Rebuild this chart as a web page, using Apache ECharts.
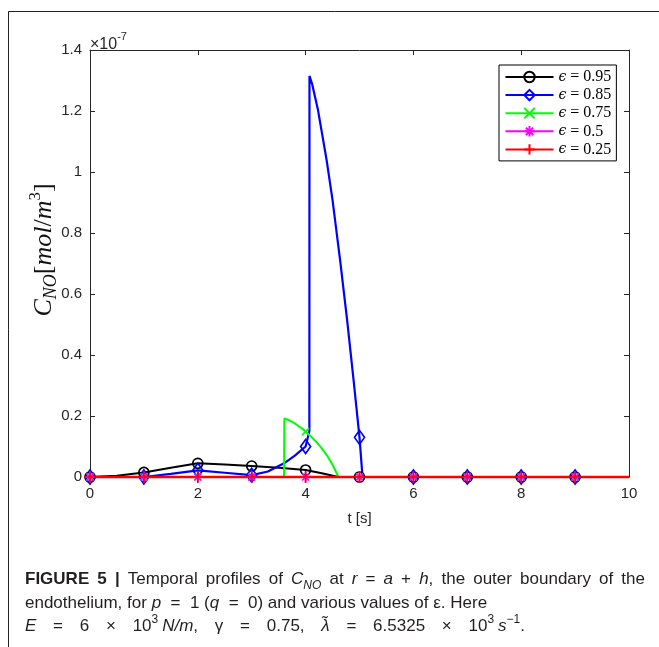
<!DOCTYPE html>
<html><head><meta charset="utf-8">
<script src="https://cdn.jsdelivr.net/npm/echarts@6/dist/echarts.min.js"></script>
<style>html,body{margin:0;padding:0;background:#fff}#c{width:659px;height:647px}</style>
</head><body><div id="c"></div>
<script>
// values in units of 1e-7 mol/m^3
const markerTimes = [0, 1, 2, 3, 4, 5, 6, 7, 8, 9];
const t095 = [0, 0.5, 1, 1.5, 2, 2.5, 3, 3.5, 4, 4.3, 4.61, 5, 6, 7, 8, 9, 10];
const c095 = [0, 0.004, 0.015, 0.03, 0.045, 0.041, 0.036, 0.03, 0.023, 0.012, 0, 0, 0, 0, 0, 0, 0];
const t085 = [0, 0.5, 1, 1.5, 2, 2.5, 3, 3.3, 3.6, 3.8, 4, 4.07, 4.072, 4.12, 4.23, 4.39, 4.5, 4.64, 4.77, 4.89, 5, 5.056, 6, 7, 8, 9, 10];
const c085 = [0, 0, 0, 0.01, 0.022, 0.014, 0.006, 0.018, 0.045, 0.07, 0.1, 0.15, 1.315, 1.289, 1.203, 1.039, 0.908, 0.711, 0.515, 0.318, 0.13, 0, 0, 0, 0, 0, 0];
const t075 = [0, 1, 2, 3, 3.6, 3.605, 3.7, 3.8, 3.9, 4, 4.1, 4.2, 4.3, 4.4, 4.5, 4.61, 5, 6, 7, 8, 9, 10];
const c075 = [0, 0, 0, 0, 0, 0.192, 0.186, 0.176, 0.163, 0.149, 0.133, 0.115, 0.094, 0.07, 0.04, 0, 0, 0, 0, 0, 0, 0];
const t050 = [0, 1, 2, 3, 4, 5, 6, 7, 8, 9, 10];
const c050 = [0, 0, 0, 0, 0, 0, 0, 0, 0, 0, 0];
const t025 = [0, 1, 2, 3, 4, 5, 6, 7, 8, 9, 10];
const c025 = [0, 0, 0, 0, 0, 0, 0, 0, 0, 0, 0];
const seriesNames = ['ε = 0.95', 'ε = 0.85', 'ε = 0.75', 'ε = 0.5', 'ε = 0.25'];
const xTickValues = [0, 2, 4, 6, 8, 10];
const yTickValues = [0, 0.2, 0.4, 0.6, 0.8, 1, 1.2, 1.4];

function buildData(ts, vs) {
  return ts.map((t, i) => markerTimes.includes(t) ? [t, vs[i]] : { value: [t, vs[i]], symbol: 'none' });
}
const AX = '#262626';
const SANS = 'Liberation Sans, Arial, Helvetica, sans-serif';
const SERIF = 'Liberation Serif, Times New Roman, serif';
const CAPC = '#231f20';

function mkSeries(name, ts, vs, color, symbol, size, lw) {
  return {
    name, type: 'line', data: buildData(ts, vs), xAxisIndex: 0, yAxisIndex: 0,
    symbol, symbolSize: size, showAllSymbol: true, showSymbol: true,
    color, lineStyle: { color, width: lw },
    itemStyle: { color: 'rgba(0,0,0,0)', borderColor: color, borderWidth: 1.7 },
    emphasis: { disabled: true }, animation: false, clip: false
  };
}
const STAR = 'path://M5,0L5,10M0,5L10,5M1.5,1.5L8.5,8.5M8.5,1.5L1.5,8.5';
const PLUS = 'path://M5,0L5,10M0,5L10,5';
const XM = 'path://M0,0L10,10M10,0L0,10';

// caption text layout helpers
const FS = 17;
const fontOf = {
  t: FS + 'px "Liberation Sans"', b: 'bold ' + FS + 'px "Liberation Sans"',
  i: 'italic ' + FS + 'px "Liberation Sans"', sub: 'italic 12px "Liberation Sans"', sup: '12px "Liberation Sans"'
};
const ctx = document.createElement('canvas').getContext('2d');
function pw(style, txt) { ctx.font = fontOf[style]; return ctx.measureText(txt).width; }
function justify(words, total) {
  let sum = 0;
  words.forEach(w => w.forEach(p => { sum += (p[0] === 'g' ? 4 : pw(p[0], p[1])); }));
  const gap = (total - sum) / (words.length - 1);
  const text = words.map(w => w.map(p => '{' + p[0] + '|' + p[1] + '}').join('')).join('{sp| }');
  return { text, gap };
}
const capRich = (gap) => ({
  b: { fontWeight: 'bold', fontFamily: SANS, fontSize: FS, fill: CAPC, lineHeight: 24 },
  t: { fontFamily: SANS, fontSize: FS, fill: CAPC, lineHeight: 24 },
  i: { fontFamily: SANS, fontStyle: 'italic', fontSize: FS, fill: CAPC, lineHeight: 24 },
  sub: { fontFamily: SANS, fontStyle: 'italic', fontSize: 12, fill: CAPC, verticalAlign: 'bottom', lineHeight: 26 },
  sup: { fontFamily: SANS, fontSize: 12, fill: CAPC, verticalAlign: 'top', lineHeight: 24 },
  sp: { width: gap, fontSize: FS, lineHeight: 24 },
  g: { width: 4, fontSize: FS, lineHeight: 24 }
});
const line1 = justify([
  [['b', 'FIGURE']], [['b', '5']], [['b', '|']], [['t', 'Temporal']], [['t', 'profiles']], [['t', 'of']],
  [['i', 'C'], ['sub', 'NO']], [['t', 'at']], [['i', 'r']], [['t', '=']], [['i', 'a']], [['t', '+']],
  [['i', 'h'], ['t', ',']], [['t', 'the']], [['t', 'outer']], [['t', 'boundary']], [['t', 'of']], [['t', 'the']]
], 620);
const line3 = justify([
  [['i', 'E']], [['t', '=']], [['t', '6']], [['t', '×']], [['t', '10'], ['sup', '3'], ['g', ' '], ['i', 'N/m'], ['t', ',']],
  [['t', 'γ']], [['t', '=']], [['t', '0.75,']], [['i', 'λ̃']], [['t', '=']], [['t', '6.5325']], [['t', '×']],
  [['t', '10'], ['sup', '3'], ['g', ' '], ['i', 's'], ['sup', '−1'], ['t', '.']]
], 500);

const chart = echarts.init(document.getElementById('c'), null, { renderer: 'canvas' });
const axisCommon = {
  type: 'value', axisLine: { show: true, onZero: false, lineStyle: { color: AX, width: 1 } },
  axisTick: { show: true, inside: true, length: 5, lineStyle: { color: AX } },
  splitLine: { show: false }
};
chart.setOption({
  backgroundColor: '#fff',
  animation: false,
  grid: { left: 90, right: 30, top: 50, bottom: 170, show: false },
  xAxis: [
    Object.assign({}, axisCommon, { min: 0, max: 10, interval: 2, position: 'bottom',
      axisLabel: { color: AX, fontSize: 15, fontFamily: SANS, margin: 9,
        formatter: v => xTickValues.includes(v) ? String(v) : '' } }),
    Object.assign({}, axisCommon, { min: 0, max: 10, interval: 2, position: 'top', axisLabel: { show: false } })
  ],
  yAxis: [
    Object.assign({}, axisCommon, { min: 0, max: 1.4, interval: 0.2, position: 'left',
      axisLabel: { color: AX, fontSize: 15, fontFamily: SANS, margin: 8,
        formatter: v => { const r = Math.round(v * 10) / 10; return yTickValues.includes(r) ? String(r) : ''; } } }),
    Object.assign({}, axisCommon, { min: 0, max: 1.4, interval: 0.2, position: 'right', axisLabel: { show: false } })
  ],
  legend: {
    orient: 'vertical', left: 499, top: 65, itemWidth: 48, itemHeight: 13, itemGap: 2.1,
    padding: [4, 5, 3.5, 5.5], borderColor: '#000', borderWidth: 1, backgroundColor: '#fff',
    data: seriesNames,
    formatter: n => '{e|ϵ}{n| = ' + n.split('= ')[1] + '}',
    textStyle: { fontSize: 15, color: '#000', fontFamily: SERIF, lineHeight: 14,
      rich: { e: { fontStyle: 'italic', fontFamily: 'DejaVu Serif', fontSize: 14, color: '#000', lineHeight: 14 },
              n: { fontFamily: SERIF, fontSize: 16, color: '#000', lineHeight: 14 } } }
  },
  series: [
    mkSeries(seriesNames[0], t095, c095, '#000000', 'circle', 10, 2),
    mkSeries(seriesNames[1], t085, c085, '#0000ff', 'diamond', [10, 14], 2.2),
    mkSeries(seriesNames[2], t075, c075, '#00ff00', XM, 7, 2),
    mkSeries(seriesNames[3], t050, c050, '#ff00ff', STAR, 10, 2),
    mkSeries(seriesNames[4], t025, c025, '#ff0000', PLUS, 12, 2.4)
  ],
  graphic: [
    { type: 'rect', z: -1, shape: { x: 8.5, y: 11.5, width: 900, height: 900 }, style: { fill: 'none', stroke: '#222', lineWidth: 1 } },
    { type: 'text', x: 90, y: 42, style: { text: '{a|×10}{s|-7}', textVerticalAlign: 'middle',
      rich: { a: { fontSize: 16, fontFamily: SANS, fill: AX, verticalAlign: 'bottom', lineHeight: 16 },
              s: { fontSize: 11, fontFamily: SANS, fill: AX, verticalAlign: 'top', lineHeight: 22 } } } },
    { type: 'text', x: 359.5, y: 519, style: { text: 't [s]', fontSize: 15, fontFamily: SANS, fill: AX, textAlign: 'center', textVerticalAlign: 'middle' } },
    { type: 'text', x: 44, y: 250, rotation: Math.PI / 2, style: {
      text: '{i|C}{sub|NO}{u|[}{i|mol}{u|/}{i|m}{sup|3}{u|]}', textAlign: 'center', textVerticalAlign: 'middle',
      rich: { i: { fontStyle: 'italic', fontFamily: SERIF, fontSize: 26, fill: '#111', verticalAlign: 'middle', lineHeight: 33 },
              u: { fontFamily: SERIF, fontSize: 26, fill: '#111', verticalAlign: 'middle', lineHeight: 33 },
              sub: { fontStyle: 'italic', fontFamily: SERIF, fontSize: 18, fill: '#111', verticalAlign: 'bottom', lineHeight: 33 },
              sup: { fontFamily: SERIF, fontSize: 17, fill: '#111', verticalAlign: 'top', lineHeight: 33 } } } },
    { type: 'text', x: 25, y: 579, style: { text: line1.text, textVerticalAlign: 'middle', rich: capRich(line1.gap) } },
    { type: 'text', x: 25, y: 603, style: {
      text: '{t|endothelium, for }{i|p}{t|  =  1 (}{i|q}{t|  =  0) and various values of ε. Here}',
      textVerticalAlign: 'middle', rich: capRich(4) } },
    { type: 'text', x: 25, y: 626, style: { text: line3.text, textVerticalAlign: 'middle', rich: capRich(line3.gap) } }
  ]
});
</script></body></html>
